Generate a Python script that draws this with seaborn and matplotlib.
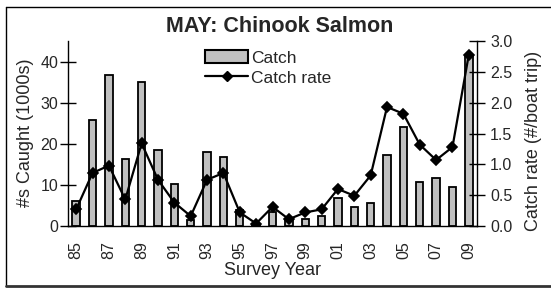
import numpy as np
import matplotlib
matplotlib.use("Agg")
import matplotlib.pyplot as plt
import matplotlib.ticker as mticker
from matplotlib.patches import Patch
from matplotlib.lines import Line2D
import seaborn as sns

# ---- data ----
years = ["85", "86", "87", "88", "89", "90", "91", "92", "93", "94", "95", "96",
         "97", "98", "99", "00", "01", "02", "03", "04", "05", "06", "07", "08", "09"]
catch = [6.2, 25.7, 36.7, 16.2, 35.0, 18.4, 10.1, 1.5, 17.9, 16.8, 3.8, 0.3,
         3.3, 1.4, 1.8, 2.4, 6.8, 4.6, 5.7, 17.3, 24.0, 10.6, 11.6, 9.5, 41.3]
catch_rate = [0.27, 0.86, 0.98, 0.43, 1.34, 0.75, 0.38, 0.16, 0.75, 0.86, 0.22, 0.04,
              0.31, 0.11, 0.22, 0.27, 0.60, 0.49, 0.82, 1.93, 1.82, 1.32, 1.07, 1.28, 2.78]
label_years = years[::2]
left_ticks = [0, 10, 20, 30, 40]
right_ticks = [0.0, 0.5, 1.0, 1.5, 2.0, 2.5, 3.0]

sns.set_style("white")
plt.rcParams["font.family"] = ["Liberation Sans", "DejaVu Sans"]

W, H = 551, 289
fig = plt.figure(figsize=(W / 100, H / 100), dpi=100)
L, R, B, T = 68, 477, 226, 41
ax1 = fig.add_axes([L / W, 1 - B / H, (R - L) / W, (B - T) / H])

sns.barplot(x=years, y=catch, ax=ax1, color="#C0C0C0", saturation=1,
            edgecolor="black", linewidth=1.3, width=0.45)

ax2 = ax1.twinx()
sns.pointplot(x=years, y=catch_rate, ax=ax2, color="black", marker="D",
              markersize=5, linewidth=1.6, errorbar=None)

n = len(years)
ax1.set_xlim(-0.5, n - 0.5)
ax1.set_ylim(0, 45)
ax2.set_ylim(0, 3.0)

for a in (ax1, ax2):
    a.spines["top"].set_visible(False)
ax1.spines["right"].set_visible(False)
ax2.spines["left"].set_visible(False)
ax2.spines["bottom"].set_visible(False)
for a in (ax1, ax2):
    for s in a.spines.values():
        s.set_color("black")
        s.set_linewidth(1.0)

# x axis: labels every other year, ticks at category boundaries
ax1.set_xticks(range(0, n, 2))
ax1.set_xticklabels(label_years, rotation=90, fontsize=11.5)
ax1.set_xticks(np.arange(-0.5, n, 1.0), minor=True)
ax1.tick_params(axis="x", which="major", length=0, pad=11)
ax1.tick_params(axis="x", which="minor", direction="inout", length=11, width=1, color="black")

ax1.set_yticks(left_ticks)
ax1.tick_params(axis="y", direction="inout", length=11, width=1, pad=1.5,
                labelsize=11.5, color="black")
ax2.set_yticks(right_ticks)
ax2.yaxis.set_major_formatter(mticker.FormatStrFormatter("%.1f"))
ax2.tick_params(axis="y", direction="inout", length=11, width=1, pad=4,
                labelsize=11.5, color="black")

ax1.set_xlabel("Survey Year", fontsize=13)
ax1.xaxis.set_label_coords(0.5, (B - 262) / (B - T))
ax1.xaxis.label.set_va("top")
ax1.set_ylabel("#s Caught (1000s)", fontsize=13)
ax1.yaxis.set_label_coords((26 - L) / (R - L), (B - 132.5) / (B - T))
ax1.yaxis.label.set_va("center")
ax2.set_ylabel("Catch rate (#/boat trip)", fontsize=13, rotation=90)
ax2.yaxis.set_label_coords((533 - L) / (R - L), (B - 141) / (B - T))
ax2.yaxis.label.set_va("center")

fig.text(280 / W, 1 - 32 / H, "MAY: Chinook Salmon", ha="center", va="baseline",
         fontsize=15.5, fontweight="bold")

handles = [Patch(facecolor="#C0C0C0", edgecolor="black", linewidth=1.5),
           Line2D([], [], color="black", marker="D", markersize=5, linewidth=1.6)]
fig.legend(handles, ["Catch", "Catch rate"], loc="upper left",
           bbox_to_anchor=(205 / W, 1 - 50 / H), frameon=False, fontsize=12.5,
           borderpad=0, borderaxespad=0, handlelength=2.5, handleheight=0.8,
           handletextpad=0.15, labelspacing=0.25)

# figure frame
fig.add_artist(Line2D([6 / W, 1.0], [1 - 7 / H, 1 - 7 / H], transform=fig.transFigure,
                      color="black", lw=1.0))
fig.add_artist(Line2D([6 / W, 6 / W], [1 - 7 / H, 1 - 286 / H], transform=fig.transFigure,
                      color="black", lw=1.0))
fig.add_artist(Line2D([6 / W, 1.0], [1 - 286 / H, 1 - 286 / H], transform=fig.transFigure,
                      color="#333333", lw=2.0))

fig.savefig("out.png", dpi=100)
